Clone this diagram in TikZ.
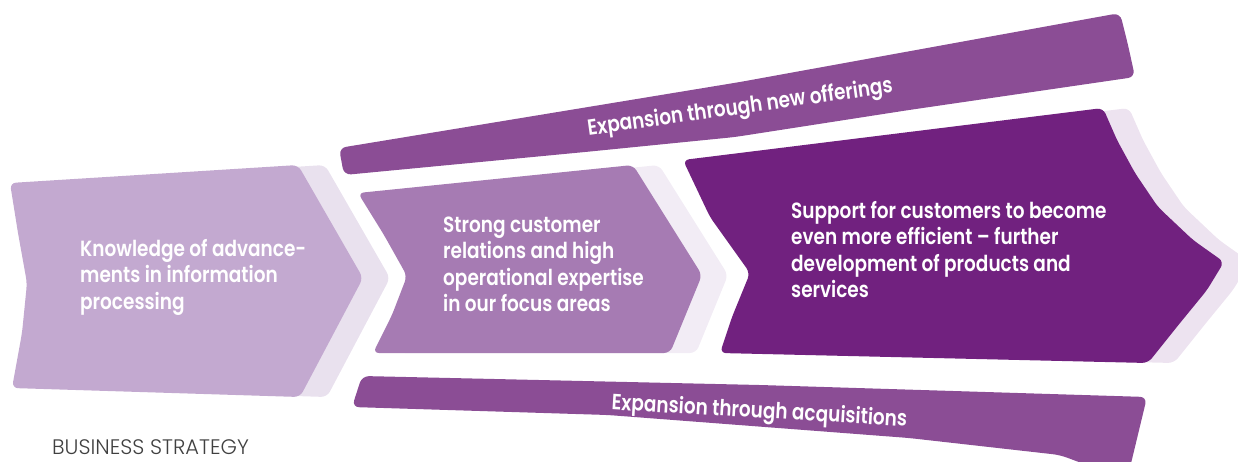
\documentclass[tikz,border=0pt]{standalone}
\usepackage{fontspec}
\newfontfamily\bodyfont{Poppins SemiBold}[FakeStretch=0.84,Ligatures=TeX]
\newfontfamily\captionfont{Poppins Light}[Ligatures=TeX]
\definecolor{lilac}{HTML}{C3A9D0}
\definecolor{lilacshade}{HTML}{E9E1EE}
\definecolor{mauve}{HTML}{A67BB3}
\definecolor{mauveshade}{HTML}{F2ECF5}
\definecolor{plum}{HTML}{71217F}
\definecolor{plumshade}{HTML}{EDE3F0}
\definecolor{band}{HTML}{8B4D95}
\definecolor{captiongray}{HTML}{404040}
% stack of lines whose baseline is the first line's baseline
\newcommand\stacklines[1]{\vtop{\baselineskip=26.5pt\lineskiplimit=-100pt #1}}
\begin{document}
\begin{tikzpicture}[x=1pt,y=-1pt,
  chevron/.style={rounded corners=6pt},
  banner/.style={fill=band,rounded corners=7pt},
  bodytext/.style={text=white,inner sep=0pt,font=\bodyfont\fontsize{22}{26.5}\selectfont},
  bandtext/.style={text=white,inner sep=0pt,anchor=base,font=\bodyfont\fontsize{22}{26.5}\selectfont}]
\useasboundingbox (0,0) rectangle (1238,461);
\begin{scope}
\clip (0,0) rectangle (1238,461);
% shaded bands behind the three chevrons
\fill[lilacshade,chevron,xshift=27pt]
  (10,183) -- (298,165) -- (363,278) -- (300,397) -- (12,388)
  -- (22,333) -- (27,283) -- (18,233) -- cycle;
\fill[mauveshade,chevron,xshift=26pt]
  (358,193) -- (633,165) -- (702,275) -- (670,353) -- (373,353)
  -- (392,315) -- (407,276) -- (384,235) -- cycle;
\fill[plumshade,chevron,xshift=26pt]
  (683,160) -- (1103,108) -- (1117,140) -- (1135,173) -- (1158,207)
  -- (1193,240) -- (1224,262) -- (1207,290) -- (1180,323) -- (1148,363)
  -- (720,353) -- (732,317) -- (750,273) -- (710,217) -- cycle;
% the three chevrons
\fill[lilac,chevron]
  (10,183) -- (298,165) -- (363,278) -- (300,397) -- (12,388)
  -- (22,333) -- (27,283) -- (18,233) -- cycle;
\fill[mauve,chevron]
  (358,193) -- (633,165) -- (702,275) -- (670,353) -- (373,353)
  -- (392,315) -- (407,276) -- (384,235) -- cycle;
\fill[plum,chevron]
  (683,160) -- (1103,108) -- (1117,140) -- (1135,173) -- (1158,207)
  -- (1193,240) -- (1224,262) -- (1207,290) -- (1180,323) -- (1148,363)
  -- (720,353) -- (732,317) -- (750,273) -- (710,217) -- cycle;
% upper and lower bands
\fill[banner]
  (339,148) -- (740,82) -- (1120,13) -- (1128,45) -- (1135,77)
  -- (909,110) -- (735,137) -- (585,152) -- (344,175) -- cycle;
\fill[banner]
  (362,376) -- (760,385) -- (1147,397) -- (1127,480)
  -- (1060,455) -- (909,438) -- (608,415) -- (352,407) -- cycle;
\end{scope}
% texts
\node[bodytext,anchor=base west] (knowledge) at (80,256)
  {\stacklines{\hbox{Knowledge of advance-}\hbox{ments in information}\hbox{processing}}};
\node[bodytext,anchor=base west] (relations) at (443,232)
  {\stacklines{\hbox{Strong customer}\hbox{relations and high}\hbox{operational expertise}\hbox{in our focus areas}}};
\node[bodytext,anchor=base west] (support) at (791,218)
  {\stacklines{\hbox{Support for customers to become}\hbox{even more efficient – further}\hbox{development of products and}\hbox{services}}};
\node[bandtext,rotate=8] (offerings) at (741,114) {Expansion through new offerings};
\node[bandtext,rotate=-3.3] (acquisitions) at (759,418) {Expansion through acquisitions};
\node[inner sep=0pt,anchor=base west,text depth=0pt,text=captiongray,font=\captionfont\fontsize{21}{24}\selectfont]
  (strategy) at (52,454) {BUSINESS STRATEGY};
\end{tikzpicture}
\end{document}
